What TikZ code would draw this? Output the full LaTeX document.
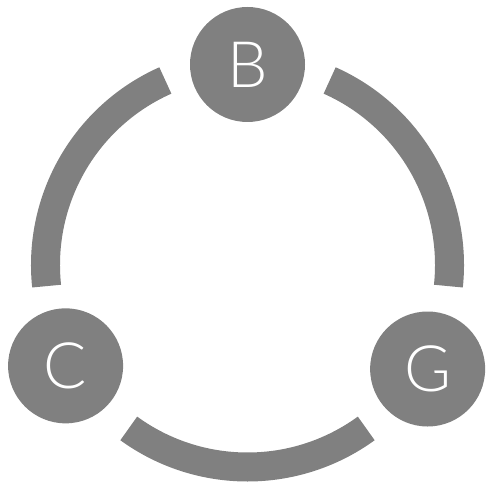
\documentclass[tikz,border=0pt]{standalone}
\usepackage{fontspec}
\setsansfont{Lato}[UprightFont={* Light}]
\definecolor{disc}{HTML}{808080}
\begin{document}
\begin{tikzpicture}[x=1pt,y=1pt,
  letter/.style={circle,fill=disc,minimum size=115pt,inner sep=0pt,text=white,
    font=\sffamily\fontsize{64}{64}\selectfont},
  ring/.style={draw=disc,line width=29pt}]
\useasboundingbox (-247.5,-219) rectangle (238.5,265);
\coordinate (ctr) at (0,0);

\node[letter] (B) at (90:200.5) {B};
\node[letter] (C) at (209:208) {C};
\node[letter] (G) at (330:208) {G};

% ring pieces between the letters
\draw[ring] ([shift={(114:202)}]ctr) arc[start angle=114,end angle=186,radius=202];
\draw[ring] ([shift={(234:202)}]ctr) arc[start angle=234,end angle=306,radius=202];
\draw[ring] ([shift={(-6:202)}]ctr) arc[start angle=-6,end angle=66,radius=202];
\end{tikzpicture}
\end{document}
